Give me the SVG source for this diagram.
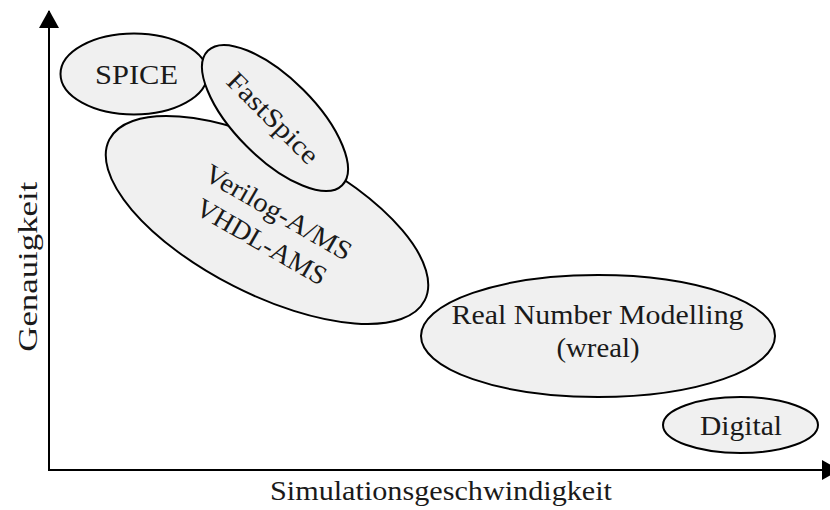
<svg xmlns="http://www.w3.org/2000/svg" width="830" height="510" viewBox="0 0 830 510">
<defs>
<style>
.n{fill:#f0f0f0;stroke:#000;stroke-width:2}
.t{font-family:"Liberation Serif","Times New Roman",serif;font-size:27px;fill:#1a1a1a;text-anchor:middle}
.ax{stroke:#000;stroke-width:2;fill:none}
</style>
<marker id="ah" viewBox="0 0 18 20" refX="17" refY="10" markerWidth="18" markerHeight="20" markerUnits="userSpaceOnUse" orient="auto">
<path d="M0,0 L18,10 L0,20 Z" fill="#000"/>
</marker>
</defs>
<rect width="830" height="510" fill="#fff"/>
<g id="connectors">
<line class="ax" x1="49" y1="470" x2="49" y2="11" marker-end="url(#ah)"/>
<line class="ax" x1="48" y1="470" x2="839" y2="470" marker-end="url(#ah)"/>
</g>
<g id="spice">
<ellipse class="n" cx="134" cy="74" rx="73.5" ry="40.5"/>
<text class="t" x="136.5" y="83.5" textLength="83" lengthAdjust="spacingAndGlyphs">SPICE</text>
</g>
<g id="verilog">
<ellipse class="n" cx="0" cy="0" rx="177" ry="74" transform="translate(267,220) rotate(27)"/>
<g transform="translate(270,227) rotate(30)">
<text class="t" x="0" y="-8" textLength="165" lengthAdjust="spacingAndGlyphs">Verilog-A/MS</text>
<text class="t" x="0" y="26" textLength="146" lengthAdjust="spacingAndGlyphs">VHDL-AMS</text>
</g>
</g>
<g id="fastspice">
<ellipse class="n" cx="0" cy="0" rx="95" ry="40" transform="translate(275,118) rotate(45)"/>
<text class="t" x="0" y="9" textLength="118" lengthAdjust="spacingAndGlyphs" transform="translate(273,118) rotate(45)">FastSpice</text>
</g>
<g id="realnumber">
<ellipse class="n" cx="598" cy="336" rx="177" ry="61"/>
<text class="t" x="597.5" y="323.5" textLength="292" lengthAdjust="spacingAndGlyphs">Real Number Modelling</text>
<text class="t" x="598" y="357" textLength="83" lengthAdjust="spacingAndGlyphs">(wreal)</text>
</g>
<g id="digital">
<ellipse class="n" cx="740.5" cy="425" rx="77.5" ry="28"/>
<text class="t" x="741" y="435" textLength="82" lengthAdjust="spacingAndGlyphs">Digital</text>
</g>
<g id="labels">
<text class="t" x="441" y="500" textLength="342" lengthAdjust="spacingAndGlyphs">Simulationsgeschwindigkeit</text>
<text class="t" x="0" y="0" textLength="170" lengthAdjust="spacingAndGlyphs" transform="translate(36.7,266.7) rotate(-90)">Genauigkeit</text>
</g>
</svg>
